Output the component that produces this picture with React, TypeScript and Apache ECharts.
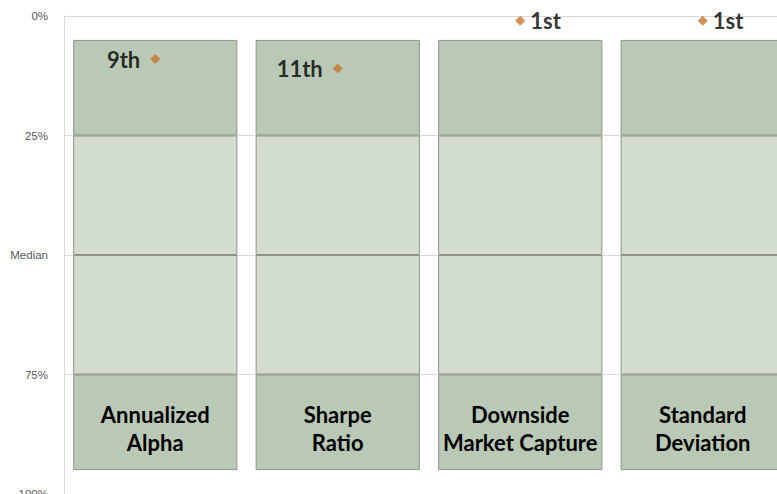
import React, { useEffect, useRef } from "react";
import * as echarts from "echarts";

const categories = ["Annualized\nAlpha", "Sharpe\nRatio", "Downside\nMarket Capture", "Standard\nDeviation"];
const rankValues = [9, 11, 1, 1];
const rankLabels = ["9th", "11th", "1st", "1st"];
const rankLabelSides = ["left", "left", "right", "right"];
// quartile band boundaries (percentile rank, 0 = best at top)
const bandStart = [5, 5, 5, 5];
const band1 = [20, 20, 20, 20]; // 5% - 25%
const band2 = [25, 25, 25, 25]; // 25% - 50%
const band3 = [25, 25, 25, 25]; // 50% - 75%
const band4 = [20, 20, 20, 20]; // 75% - 95%
const tickLabels: Record<number, string> = { 0: "0%", 25: "25%", 50: "Median", 75: "75%", 100: "100%" };

const DARK = "#bac9b6";
const LIGHT = "#d2ddcd";
const BORDER = "#8e948c";
const FONT = "Lato";

export default function App() {
  const ref = useRef<HTMLDivElement>(null);
  useEffect(() => {
    if (!ref.current) return;
    const chart = echarts.init(ref.current, null, { renderer: "svg" });
    const bandItem = (color: string) => ({ color, borderColor: BORDER, borderWidth: 1 });
    chart.setOption({
      animation: false,
      grid: { left: 64, width: 730, top: 16, height: 478, containLabel: false, outerBoundsMode: "none" },
      xAxis: {
        type: "category",
        data: categories,
        axisLine: { show: false },
        axisTick: { show: false },
        axisLabel: { show: false },
      },
      yAxis: {
        type: "value",
        inverse: true,
        min: 0,
        max: 100,
        interval: 25,
        axisLine: { show: true, lineStyle: { color: "#d9d9d9" } },
        axisTick: { show: false },
        splitLine: { show: true, lineStyle: { color: "#d9d9d9" } },
        axisLabel: {
          formatter: (v: number) => tickLabels[v] ?? "",
          color: "#595959",
          fontSize: 11.5,
          fontFamily: "Liberation Sans",
          margin: 16,
        },
      },
      series: [
        { type: "bar", stack: "q", data: bandStart, barWidth: "90%", itemStyle: { color: "transparent" }, silent: true },
        { type: "bar", stack: "q", data: band1, barWidth: "90%", itemStyle: bandItem(DARK) },
        { type: "bar", stack: "q", data: band2, barWidth: "90%", itemStyle: bandItem(LIGHT) },
        { type: "bar", stack: "q", data: band3, barWidth: "90%", itemStyle: bandItem(LIGHT) },
        {
          type: "bar",
          stack: "q",
          data: band4,
          barWidth: "90%",
          itemStyle: bandItem(DARK),
          label: {
            show: true,
            position: "inside",
            offset: [0, 6],
            formatter: (p: any) => p.name,
            color: "#000",
            fontFamily: FONT,
            fontWeight: "bold",
            fontSize: 22,
            lineHeight: 28,
            align: "center",
          },
        },
        {
          type: "scatter",
          symbol: "diamond",
          symbolSize: 10,
          itemStyle: { color: "#c5762c" },
          z: 10,
          data: rankValues.map((v, i) => ({
            value: v,
            label: {
              show: true,
              position: rankLabelSides[i],
              distance: rankLabelSides[i] === "left" ? 10 : 5,
              formatter: rankLabels[i],
              color: "#000",
              fontFamily: FONT,
              fontWeight: "bold",
              fontSize: 22,
            },
          })),
        },
      ],
    });
    return () => chart.dispose();
  }, []);
  return <div ref={ref} style={{ position: "absolute", left: 0, top: 0, width: 777, height: 494 }} />;
}
